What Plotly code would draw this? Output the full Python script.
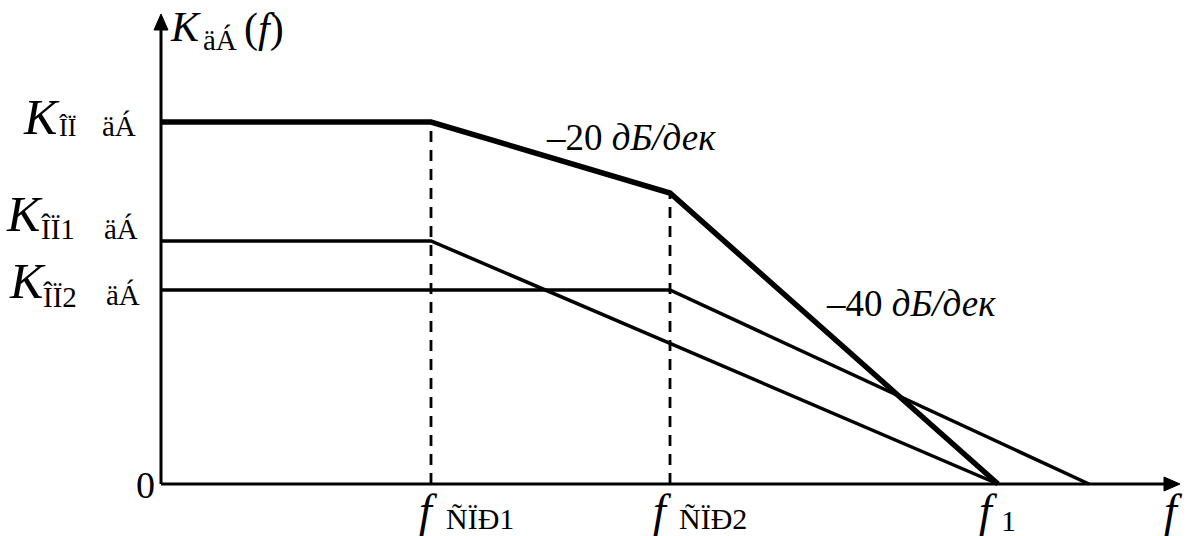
import plotly.graph_objects as go

# Break frequencies and end points along the frequency axis (chart units)
f_cp1 = 2.70        # first corner frequency
f_cp2 = 5.09        # second corner frequency
f_1 = 8.37          # unity point of the overall response
f_2_end = 9.28      # zero crossing of the second stage response

# Gain levels (chart units)
K0 = 3.62           # overall mid-band gain
K0_cp2 = 2.91       # overall gain at the second corner
K1 = 2.43           # first stage gain
K2 = 1.94           # second stage gain

# Axis extents
x_axis_end = 10.19
y_axis_end = 4.70

# Figure geometry: 100 px per unit, origin at (161, 484) px
W, H = 1187, 536
X0, Y0, S = 161, 484, 100


def tx(px):
    return (px - X0) / S


def ty(py):
    return (Y0 - py) / S


FONT = "Liberation Serif, Times New Roman, serif"
fig = go.Figure()

# Overall response (thick)
fig.add_trace(go.Scatter(x=[0, f_cp1, f_cp2, f_1], y=[K0, K0, K0_cp2, 0],
                         mode="lines", line=dict(color="black", width=5.5)))
# First stage
fig.add_trace(go.Scatter(x=[0, f_cp1, f_1], y=[K1, K1, 0],
                         mode="lines", line=dict(color="black", width=3.5)))
# Second stage
fig.add_trace(go.Scatter(x=[0, f_cp2, f_2_end], y=[K2, K2, 0],
                         mode="lines", line=dict(color="black", width=3.5)))
# Dashed corner markers
for xc, yc in [(f_cp1, K0), (f_cp2, K0_cp2)]:
    fig.add_trace(go.Scatter(x=[xc, xc], y=[0, yc], mode="lines",
                             line=dict(color="black", width=2.8, dash="11px,8px")))

# Axes with arrowheads
head_len, head_half = 0.16, 0.07
fig.add_trace(go.Scatter(x=[0, x_axis_end - head_len], y=[0, 0], mode="lines",
                         line=dict(color="black", width=3)))
fig.add_trace(go.Scatter(x=[0, 0], y=[0, y_axis_end - head_len], mode="lines",
                         line=dict(color="black", width=3)))
fig.add_trace(go.Scatter(
    x=[x_axis_end, x_axis_end - head_len, x_axis_end - head_len, x_axis_end],
    y=[0, head_half, -head_half, 0], mode="lines", fill="toself",
    fillcolor="black", line=dict(color="black", width=1)))
fig.add_trace(go.Scatter(
    x=[0, head_half, -head_half, 0],
    y=[y_axis_end, y_axis_end - head_len, y_axis_end - head_len, y_axis_end],
    mode="lines", fill="toself", fillcolor="black",
    line=dict(color="black", width=1)))


def label(text, px, py, size, xanchor="center"):
    fig.add_annotation(x=tx(px), y=ty(py), xref="x", yref="y", text=text,
                       showarrow=False, xanchor=xanchor, yanchor="middle",
                       font=dict(family=FONT, size=size, color="black"))


# Vertical axis title
label("<i>K</i>", 185, 27, 42)
label("äÁ", 220, 40, 29)
label("(<i>f</i>)", 264, 28, 42)

# Gain level labels
label("<i>K</i>", 41, 117, 50)
label("ÎÏ", 67, 127, 26)
label("äÁ", 119, 126, 29)

label("<i>K</i>", 24, 214, 50)
label("ÎÏ1", 58, 229, 29)
label("äÁ", 121, 229, 29)

label("<i>K</i>", 27, 281, 50)
label("ÎÏ2", 60, 297, 29)
label("äÁ", 123, 295, 29)

label("0", 145, 485, 38)

# Frequency labels
label("<i>f</i>", 428, 510, 46)
label("ÑÏÐ1", 480, 518, 30)
label("<i>f</i>", 662, 510, 46)
label("ÑÏÐ2", 713, 518, 30)
label("<i>f</i>", 988, 510, 46)
label("1", 1008, 520, 30)
label("<i>f</i>", 1173, 510, 46)

# Slope labels
label("–20 <i>дБ/дек</i>", 544, 137, 37, xanchor="left")
label("–40 <i>дБ/дек</i>", 824, 303, 37, xanchor="left")

fig.update_layout(
    width=W, height=H, margin=dict(l=0, r=0, t=0, b=0),
    paper_bgcolor="white", plot_bgcolor="white", showlegend=False,
    xaxis=dict(range=[tx(0), tx(W)], visible=False, fixedrange=True),
    yaxis=dict(range=[ty(H), ty(0)], visible=False, fixedrange=True),
)

fig.write_html("out.html")
